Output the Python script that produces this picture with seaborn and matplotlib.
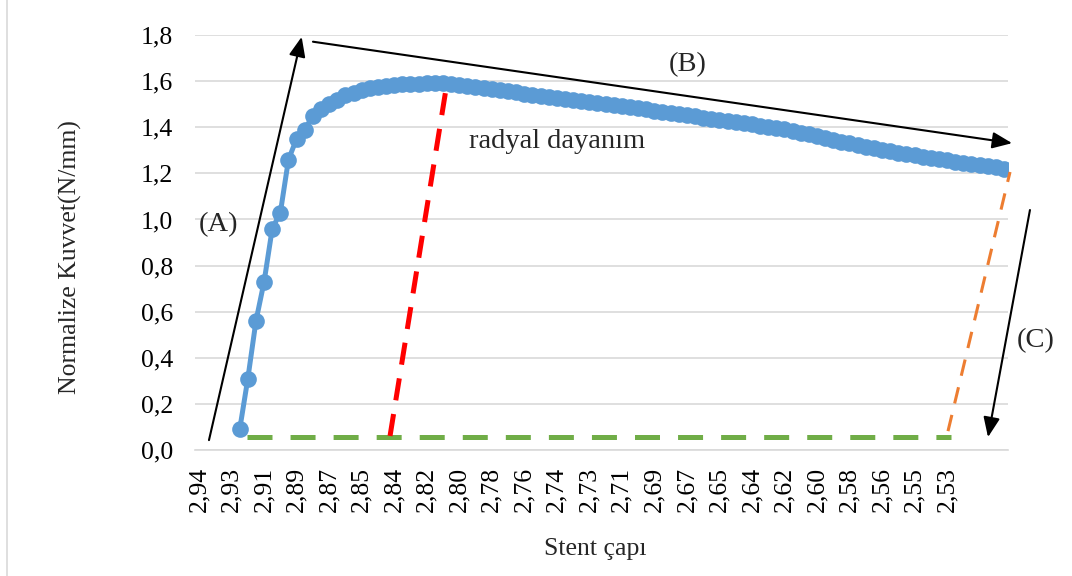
import numpy as np
import pandas as pd
import matplotlib
matplotlib.use("Agg")
import matplotlib.pyplot as plt
from matplotlib.lines import Line2D
import seaborn as sns

# Stent diameter tick labels (every 4th category of 100)
tick_labels = ["2,94", "2,93", "2,91", "2,89", "2,87", "2,85", "2,84", "2,82",
               "2,80", "2,78", "2,76", "2,74", "2,73", "2,71", "2,69", "2,67",
               "2,65", "2,64", "2,62", "2,60", "2,58", "2,56", "2,55", "2,53"]
n_categories = 100
label_step = 4

# Normalised force (N/mm); the first five categories are empty
force = [None, None, None, None, None,
         0.09, 0.31, 0.56, 0.73, 0.96, 1.03, 1.26, 1.35, 1.39, 1.45,
         1.48, 1.50, 1.52, 1.54, 1.55, 1.56, 1.57, 1.575, 1.58, 1.583,
         1.586, 1.588, 1.589, 1.590, 1.590, 1.594, 1.589, 1.585, 1.580, 1.574,
         1.569, 1.565, 1.560, 1.556, 1.551, 1.546, 1.541, 1.536, 1.531, 1.527,
         1.522, 1.518, 1.513, 1.509, 1.504, 1.499, 1.495, 1.491, 1.487, 1.482,
         1.477, 1.472, 1.467, 1.462, 1.457, 1.452, 1.447, 1.442, 1.437, 1.432,
         1.427, 1.422, 1.417, 1.412, 1.407, 1.403, 1.398, 1.392, 1.385, 1.377,
         1.369, 1.361, 1.353, 1.345, 1.337, 1.330, 1.323, 1.316, 1.309, 1.302,
         1.296, 1.290, 1.284, 1.278, 1.272, 1.266, 1.261, 1.256, 1.251, 1.246,
         1.241, 1.236, 1.231, 1.226, 1.219]

# Baseline level and its category span
baseline_level = 0.056
baseline_span = (5.9, 92.5)

sns.set_theme(style="white")
plt.rcParams["font.family"] = ["Liberation Serif", "DejaVu Serif"]
plt.rcParams["lines.scale_dashes"] = False

df = pd.DataFrame({
    "cat": np.arange(n_categories),
    "force": pd.to_numeric(pd.Series(force), errors="coerce"),
})

fig = plt.figure(figsize=(10.72, 5.76), dpi=100)
ax = fig.add_axes([0.1819, 0.2187, 0.7584, 0.7205])

blue = "#5B9BD5"
sns.lineplot(data=df.dropna(), x="cat", y="force", ax=ax, color=blue,
             lw=3.6, marker="o", markersize=12, markeredgewidth=0,
             markerfacecolor=blue, zorder=4)

ax.set_xlim(-0.5, n_categories - 0.5)
ax.set_ylim(0, 1.8)
yt = np.round(np.arange(0, 1.81, 0.2), 1)
ax.set_yticks(yt)
ax.set_yticklabels([f"{v:.1f}".replace(".", ",") for v in yt])
ax.set_xticks(np.arange(0, len(tick_labels) * label_step, label_step))
ax.set_xticklabels(tick_labels, rotation=90)
ax.tick_params(axis="both", length=0, labelsize=18.5, colors="black")
ax.tick_params(axis="y", pad=16)
ax.tick_params(axis="x", pad=12)

ax.grid(axis="y", color="#D9D9D9", lw=1.2)
ax.grid(axis="x", visible=False)
for s in ["top", "right", "left"]:
    ax.spines[s].set_visible(False)
ax.spines["bottom"].set_color("#D9D9D9")
ax.spines["bottom"].set_linewidth(1.2)

ax.set_ylabel("Normalize Kuvvet(N/mm)", fontsize=18.5)
ax.set_xlabel("Stent çapı", fontsize=18.5)
ax.yaxis.set_label_coords(-0.139, 0.465)
ax.xaxis.set_label_coords(0.492, -0.212)

# Green dashed baseline
ax.plot(baseline_span, [baseline_level, baseline_level], color="#70AD47",
        lw=3.6, dashes=(18, 13), zorder=3, solid_capstyle="butt")

# Red dashed radial-strength marker
ax.plot([23.49, 30.37], [0.061, 1.565], color="#FF0000", lw=3.6,
        dashes=(16, 10), zorder=5, clip_on=False)

# Orange dashed unloading line
ax.plot([92.12, 99.75], [0.082, 1.206], color="#ED7D31", lw=2.2,
        dashes=(12, 8.5), zorder=5, clip_on=False)

arrow_kw = dict(arrowstyle="-|>,head_length=0.6,head_width=0.25",
                mutation_scale=20, lw=1.5, color="black",
                shrinkA=0, shrinkB=0)
for start, end in [((1.22, 0.043), (12.62, 1.792)),
                   ((14.01, 1.771), (100.0, 1.331)),
                   ((102.2, 1.041), (97.04, 0.056))]:
    ax.annotate("", xy=end, xytext=start, arrowprops=arrow_kw,
                annotation_clip=False, zorder=6)

txt_kw = dict(fontsize=20.5, ha="center", va="center", clip_on=False)
ax.text(2.33, 0.976, "(A)", **txt_kw)
ax.text(60.1, 1.67, "(B)", **txt_kw)
ax.text(102.9, 0.473, "(C)", **txt_kw)
ax.text(44.0, 1.34, "radyal dayanım", **txt_kw)

# Thin frame line at the left edge of the figure
fig.add_artist(Line2D([7 / 1072, 7 / 1072], [0, 1], color="#D9D9D9", lw=1.2,
                      transform=fig.transFigure))

fig.savefig("out.png", dpi=100)
